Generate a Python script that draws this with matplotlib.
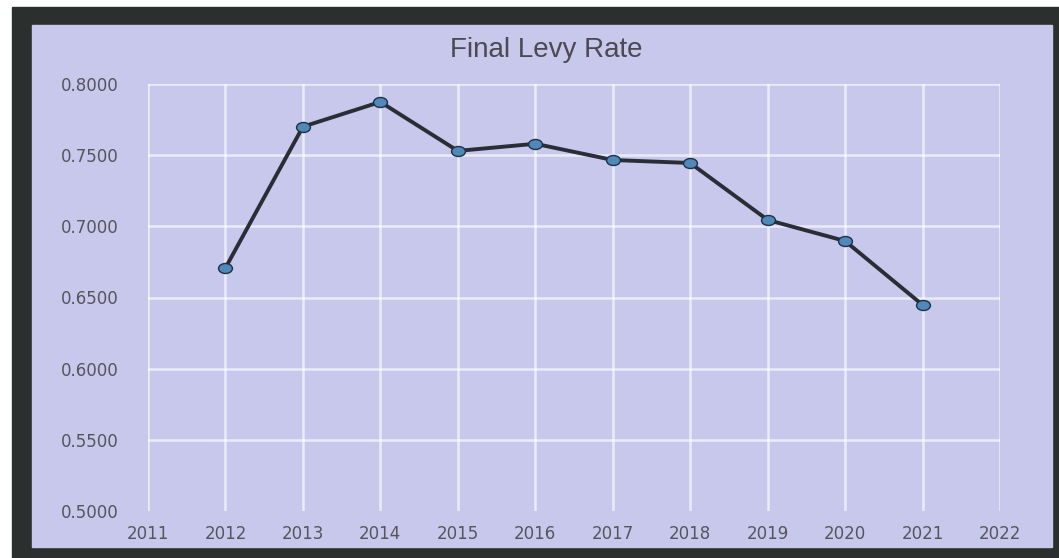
import numpy as np
import matplotlib
matplotlib.use("Agg")
import matplotlib.pyplot as plt
from matplotlib.patches import Rectangle
from matplotlib.path import Path
from matplotlib.transforms import Affine2D

years = [2012, 2013, 2014, 2015, 2016, 2017, 2018, 2019, 2020, 2021]
levy_rate = [0.6708, 0.7700, 0.7874, 0.7530, 0.7580, 0.7466, 0.7445, 0.7045, 0.6897, 0.6448]

x_ticks = list(range(2011, 2023))
y_ticks = [0.50, 0.55, 0.60, 0.65, 0.70, 0.75, 0.80]
title = "Final Levy Rate"

W, H = 1059, 558
fig = plt.figure(figsize=(W / 100, H / 100), dpi=100, facecolor="white")

# dark frame and lavender panel behind the plot
fig.patches.append(Rectangle((12 / W, 0), 1 - 12 / W, 1 - 7 / H,
                             transform=fig.transFigure, color="#2b302f", zorder=-2))
fig.patches.append(Rectangle((32 / W, 11 / H), (1052 - 32) / W, (547 - 25) / H,
                             transform=fig.transFigure, color="#c8c7ec", zorder=-1))

ax = fig.add_axes([148 / W, (H - 511) / H, (1000 - 148) / W, (511 - 84) / H])
ax.patch.set_alpha(0)
for s in ax.spines.values():
    s.set_visible(False)

# slightly flattened dot marker
ell = Path.unit_circle().transformed(Affine2D().scale(1.0, 0.72))
ax.plot(years, levy_rate, color="#2a2d35", lw=2.8, zorder=3,
        marker=ell, markersize=10, markerfacecolor="#5088b8",
        markeredgecolor="#1d3148", markeredgewidth=1.0)

ax.set_xlim(2011, 2022)
ax.set_ylim(0.5, 0.8)
ax.set_xticks(x_ticks)
ax.set_yticks(y_ticks)
ax.set_yticklabels([f"{v:.4f}" for v in y_ticks])
ax.tick_params(axis="both", length=0, labelsize=12, labelcolor="#55555c")
ax.tick_params(axis="y", pad=21)
ax.tick_params(axis="x", pad=10)

ax.grid(True, color="white", lw=1.8, alpha=0.65, zorder=1)
ax.set_axisbelow(True)
ax.yaxis.get_gridlines()[0].set_visible(False)

fig.text(546 / W, 1 - 57 / H, title, ha="center", va="baseline",
         fontsize=20, family="Liberation Sans", color="#4a4a50")

fig.savefig("out.png", dpi=100, facecolor=fig.get_facecolor())
